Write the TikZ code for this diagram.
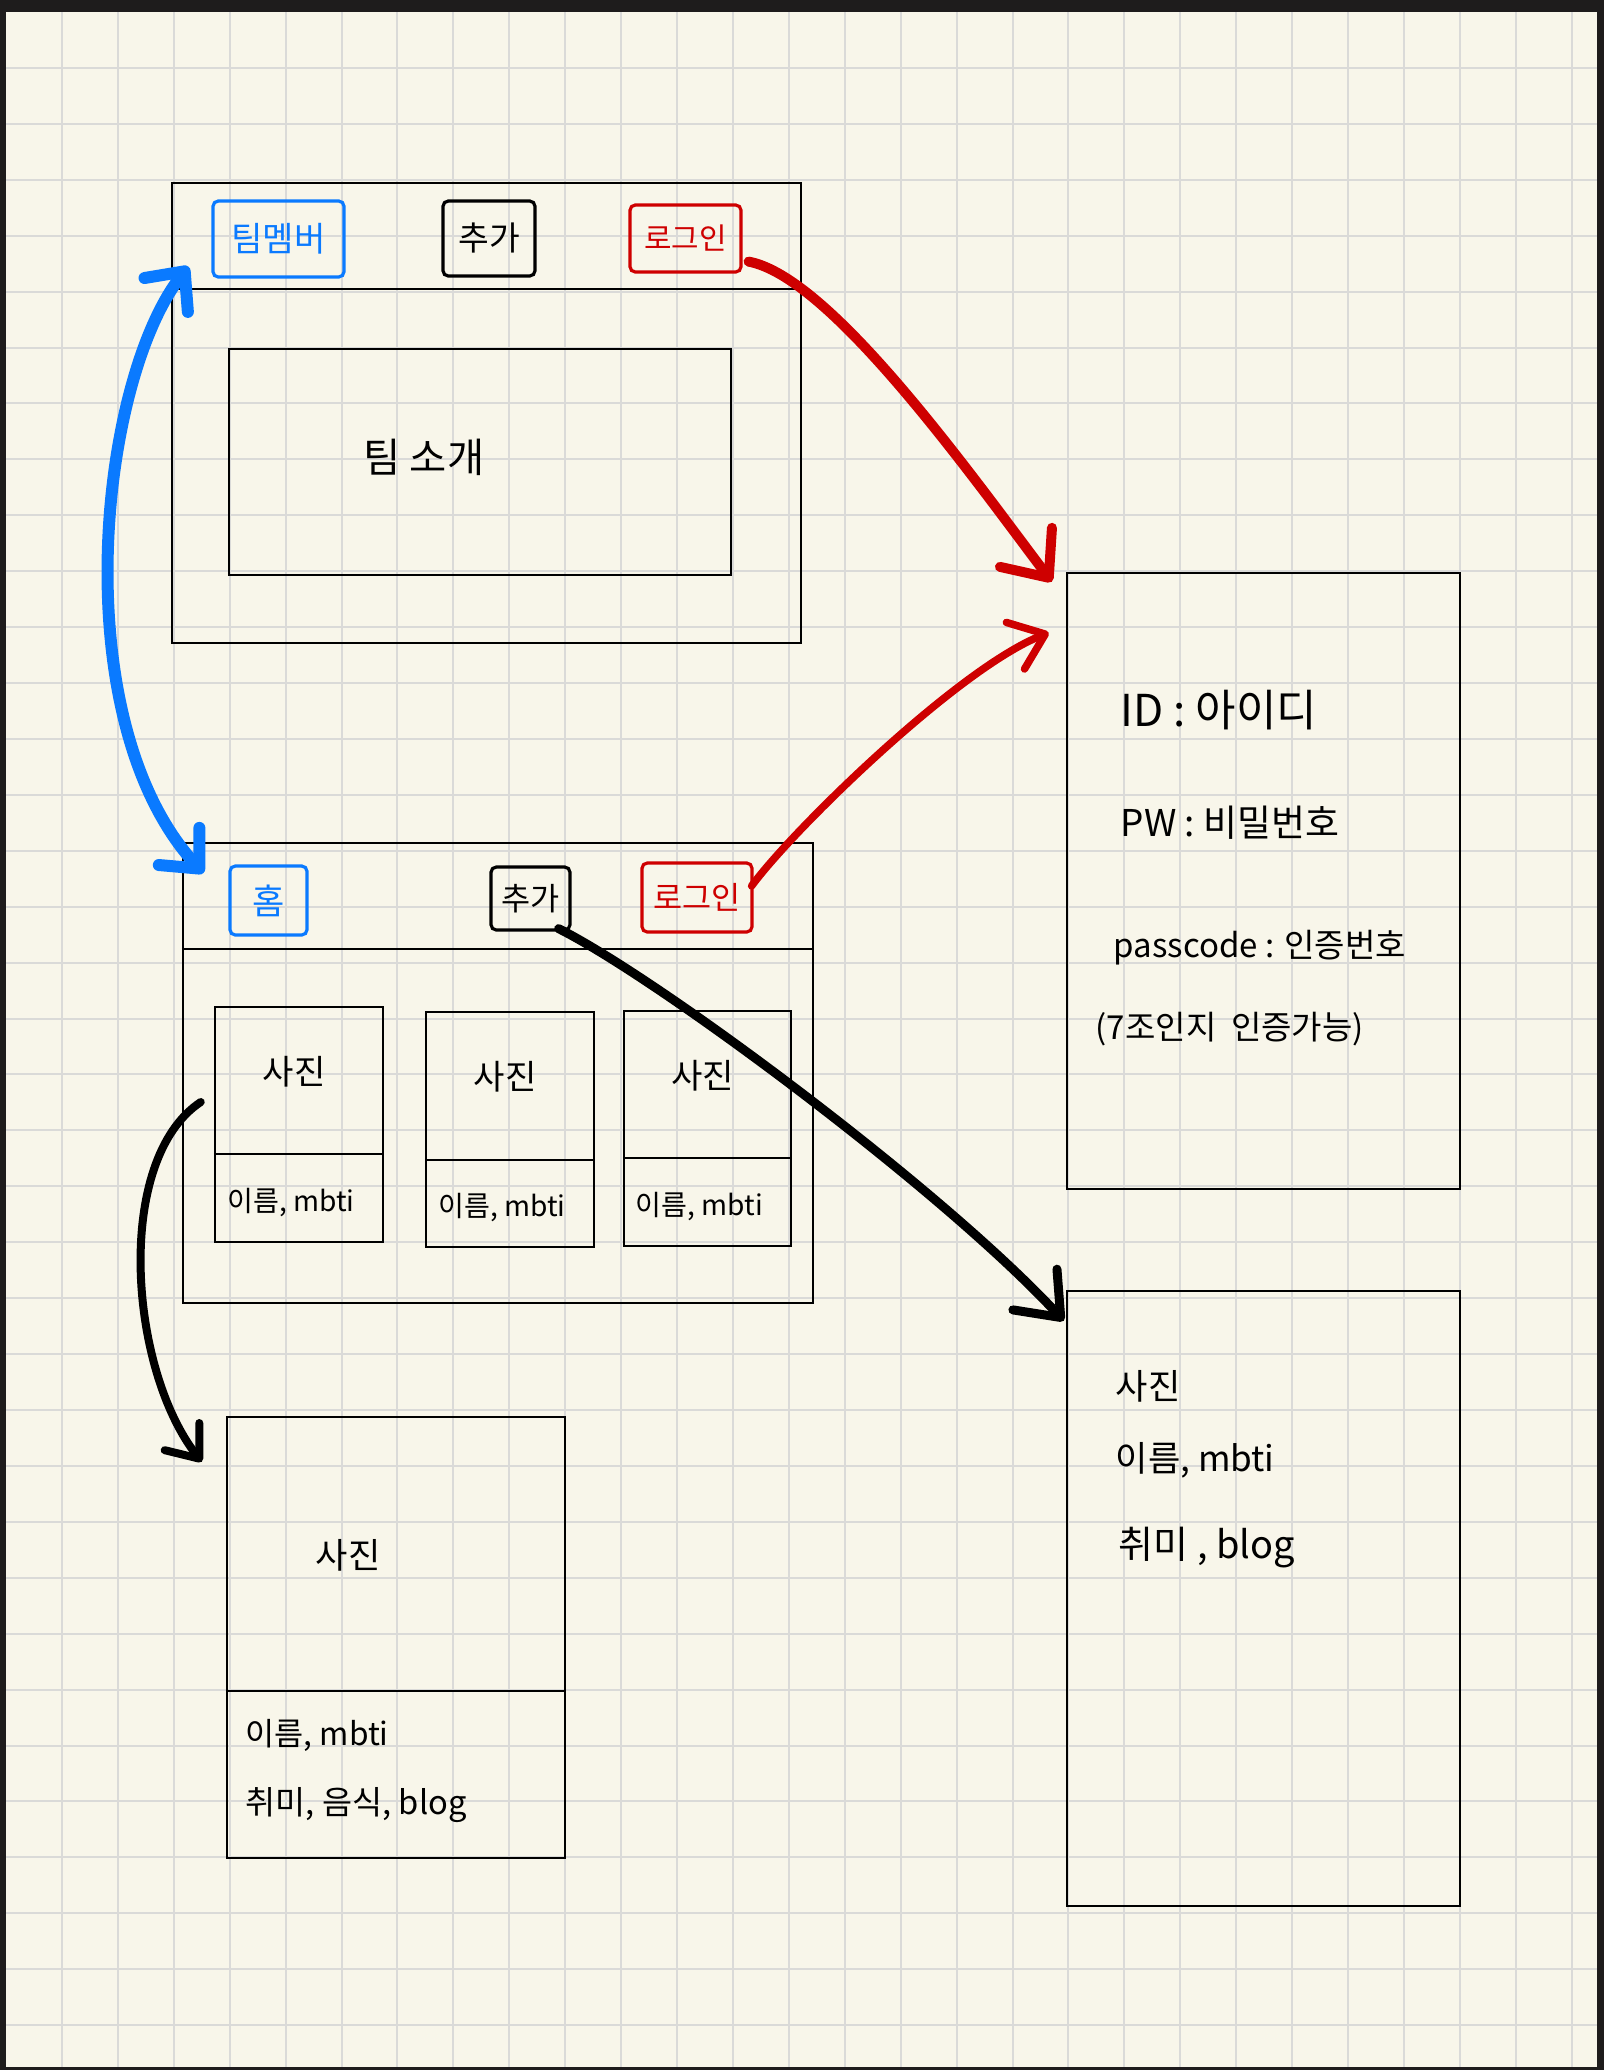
\documentclass[tikz,border=0pt]{standalone}
\usepackage{fontspec}
\setmainfont{Noto Sans CJK KR}
\usetikzlibrary{fit,arrows.meta}
\definecolor{paper}{RGB}{248,246,234}
\definecolor{gridgray}{RGB}{218,218,216}
\definecolor{penblue}{RGB}{10,122,255}
\definecolor{penred}{RGB}{206,0,0}
\definecolor{barblack}{RGB}{30,28,28}
\newcommand{\setsz}[1]{\fontsize{#1}{#1}\selectfont}

\begin{document}
\begin{tikzpicture}[x=0.1mm, y=-0.1mm,
                    frame/.style={draw, line width=0.25mm, inner sep=0pt},
                    btn/.style={draw=#1, line width=0.32mm, rounded corners=1.5pt, inner sep=0pt},
                    btntext/.style={text=#1, inner sep=0pt},
                    hand/.style={inner sep=0pt},
                    pen/.style={line width=#1, line cap=round, line join=round}]
                    \useasboundingbox (0,0) rectangle (1604,2070);
                    \fill[paper] (0,0) rectangle (1604,2070);
                    \foreach \i in {1,...,28}
                        \draw[gridgray, line width=0.2mm] ({6+\i*55.92},12) -- ({6+\i*55.92},2068);
                    \foreach \j in {1,...,36}
                        \draw[gridgray, line width=0.2mm] (6,{12+\j*55.92}) -- (1597,{12+\j*55.92});
                    \fill[barblack] (0,0) rectangle (1604,12);
                    \fill[barblack] (0,0) rectangle (6,2070);
                    \fill[barblack] (1597,0) rectangle (1604,2070);
                    \fill[barblack] (0,2067) rectangle (1604,2070);

                    \node[frame, fit={(172,183) (801,643)}] (teampage) {};
                    \draw[line width=0.25mm] (teampage.west |- 0,289) -- (teampage.east |- 0,289);
                    \node[btn=penblue, fit={(213,201) (344,277)}] (memberbtn) {};
                    \node[btntext=penblue] (membertext) at (memberbtn) {\setsz{9.7}팀멤버};
                    \node[btn=black, fit={(443,201) (535,276)}] (addbtn1) {};
                    \node[btntext=black] (addtext1) at (addbtn1) {\setsz{9.5}추가};
                    \node[btn=penred, fit={(630,205) (741,272)}] (loginbtn1) {};
                    \node[btntext=penred] (logintext1) at (loginbtn1) {\setsz{8.5}로그인};
                    \node[frame, fit={(229,349) (731,575)}] (intro) {};
                    \node[hand] (introtext) at (424,457) {\setsz{11.5}팀 소개};

                    \node[frame, fit={(183,843) (813,1303)}] (memberpage) {};
                    \draw[line width=0.25mm] (memberpage.west |- 0,949) -- (memberpage.east |- 0,949);
                    \node[btn=penblue, fit={(230,866) (307,935)}] (homebtn) {};
                    \node[btntext=penblue] (hometext) at (homebtn) {\setsz{10}홈};
                    \node[btn=black, fit={(491,867) (570,930)}] (addbtn2) {};
                    \node[btntext=black] (addtext2) at (addbtn2) {\setsz{9}추가};
                    \node[btn=penred, fit={(642,863) (752,932)}] (loginbtn2) {};
                    \node[btntext=penred] (logintext2) at (loginbtn2) {\setsz{9}로그인};
                    \foreach \n/\l/\t/\r/\b/\d in {1/215/1007/383/1242/1154, 2/426/1012/594/1247/1160, 3/624/1011/791/1246/1158} {
                        \node[frame, fit={(\l,\t) (\r,\b)}] (card\n) {};
                        \draw[line width=0.25mm] (card\n.west |- 0,\d) -- (card\n.east |- 0,\d);
                        \node[hand] (photo\n) at ({(\l+\r)/2-5},{\t+65}) {\setsz{9.7}사진};
                        \node[hand] (name\n) at ({(\l+\r)/2-8},{\b-39}) {\setsz{8}이름, mbti};
                    }

                    \node[frame, fit={(227,1417) (565,1858)}] (detailbox) {};
                    \draw[line width=0.25mm] (detailbox.west |- 0,1691) -- (detailbox.east |- 0,1691);
                    \node[hand] (detailphoto) at (348,1555) {\setsz{10}사진};
                    \node[hand, anchor=west] (detailname) at (245,1735) {\setsz{9}이름, mbti};
                    \node[hand, anchor=west] (detailhobby) at (245,1805) {\setsz{9.3}취미, 음식, blog};

                    \node[frame, fit={(1067,573) (1460,1189)}] (loginbox) {};
                    \node[hand, anchor=west] (idtext) at (1120,710) {\setsz{12.5}ID : 아이디};
                    \node[hand, anchor=west] (pwtext) at (1120,823) {\setsz{10.5}PW : 비밀번호};
                    \node[hand, anchor=west] (passtext) at (1113,948) {\setsz{9.4}passcode : 인증번호};
                    \node[hand, anchor=west] (notetext) at (1095,1029) {\setsz{9.4}(7조인지 \ 인증가능)};

                    \node[frame, fit={(1067,1291) (1460,1906)}] (infobox) {};
                    \node[hand, anchor=west] (infophoto) at (1115,1386) {\setsz{10}사진};
                    \node[hand, anchor=west] (infoname) at (1115,1460) {\setsz{10}이름, mbti};
                    \node[hand, anchor=west] (infohobby) at (1118,1548) {\setsz{10.8}취미 , blog};

                    \draw[penblue, pen=1.2mm, {Straight Barb[length=3mm, width=5.5mm, round]}-{Straight Barb[length=3mm, width=5.5mm, round]}]
                        ([shift={(-23,-12)}]memberbtn.south west) .. controls +(-90,115) and +(-140,-153) .. ([shift={(-25,-27.5)}]homebtn.west);
                    \draw[penred, pen=1mm, -{Straight Barb[length=3.8mm, width=6.5mm, round]}]
                        ([shift={(6,-12)}]loginbtn1.south east) .. controls +(80,15) and +(-90,-120) .. ([shift={(-14,10)}]loginbox.north west);
                    \draw[penred, pen=0.75mm, -{Straight Barb[length=3.2mm, width=5mm, round]}]
                        ([shift={(-2,-11.5)}]loginbtn2.east) .. controls +(40,-55) and +(-90,35) .. ([shift={(-17,61)}]loginbox.north west);
                    \draw[black, pen=0.9mm, -{Straight Barb[length=3.8mm, width=6mm, round]}]
                        ([shift={(-13,-3)}]addbtn2.south east) .. controls +(100,50) and +(-120,-130) .. ([shift={(-2,31)}]infobox.north west);
                    \draw[black, pen=0.8mm, -{Straight Barb[length=2.8mm, width=4.4mm, round]}]
                        ([shift={(-13,-22.5)}]card1.west) .. controls +(-87,58) and +(-73,-93) .. ([shift={(-24,46)}]detailbox.north west);
                \end{tikzpicture}
\end{document}
